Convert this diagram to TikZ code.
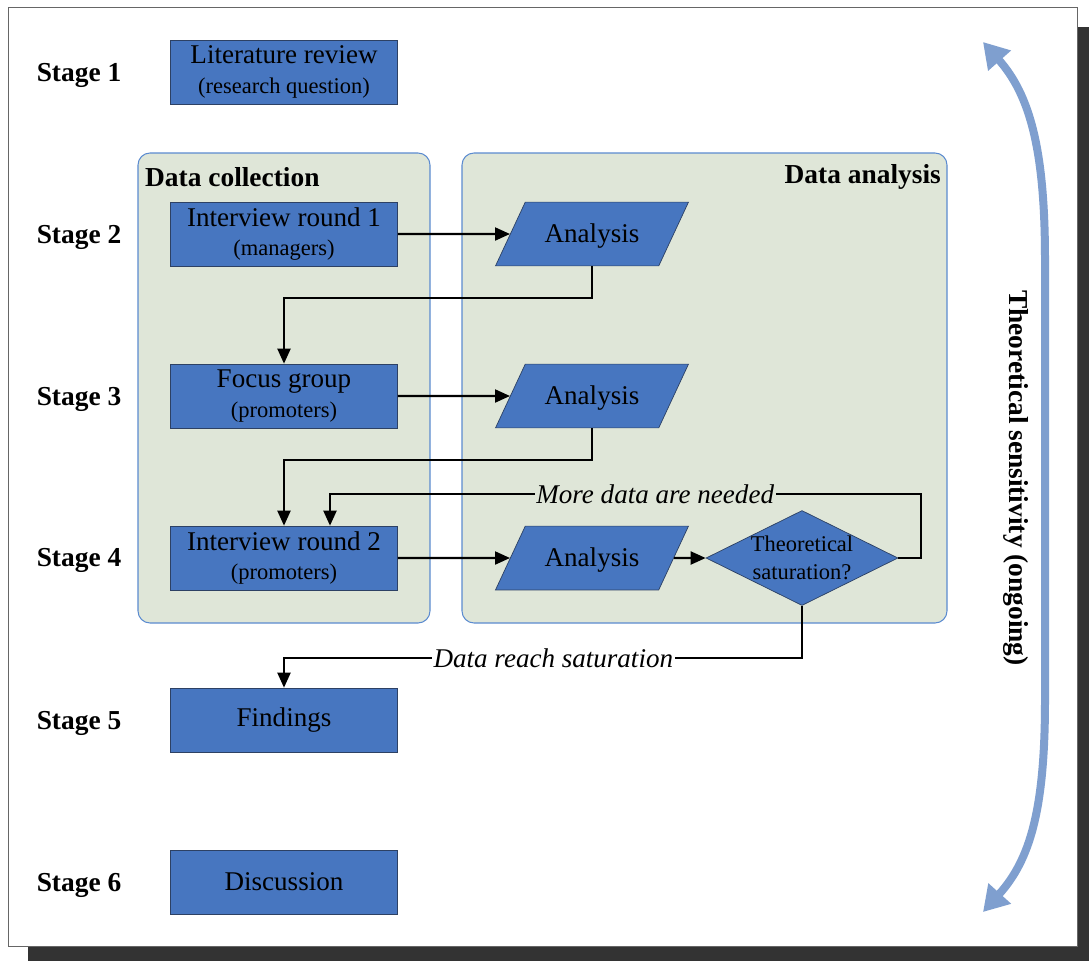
\documentclass[tikz,border=0pt]{standalone}
\usepackage{fontspec}
\setmainfont{Liberation Serif}
\usetikzlibrary{shapes.geometric,arrows.meta}
\definecolor{boxblue}{RGB}{71,118,192}
\definecolor{boxline}{RGB}{45,65,100}
\definecolor{panelfill}{RGB}{223,230,216}
\definecolor{panelline}{RGB}{91,139,208}
\definecolor{sensblue}{RGB}{127,159,207}
\newcommand{\subtxt}[1]{{\fontsize{12.8}{15}\selectfont #1}}
\tikzset{
  stage/.style={font=\fontsize{15.6}{17}\selectfont\bfseries},
  box/.style={draw=boxline,fill=boxblue,minimum width=4.54cm,minimum height=1.28cm,
    inner sep=0pt,align=center,font=\fontsize{15.4}{17}\selectfont},
  ana/.style={trapezium,trapezium left angle=65,trapezium right angle=115,
    trapezium stretches body,draw=boxline,fill=boxblue,minimum width=3.86cm,
    text height=11.5pt,text depth=2pt,inner xsep=0pt,inner ysep=11.4pt,
    font=\fontsize{15.4}{17}\selectfont},
  decision/.style={diamond,draw=boxline,fill=boxblue,minimum width=3.84cm,
    minimum height=1.9cm,inner sep=0pt},
  panel/.style={draw=panelline,fill=panelfill,rounded corners=0.24cm,line width=0.6pt},
  conn/.style={line width=1.2pt,-{Triangle[length=0.3cm,width=0.26cm]}},
  lbl/.style={font=\fontsize{15.4}{17}\selectfont\itshape,inner sep=1pt}
}
\begin{document}
\begin{tikzpicture}[x=0.02cm,y=-0.02cm]
\useasboundingbox (0,0) rectangle (1089,961);
\fill[black!80] (28,27) rectangle (1089,961);
\draw[black!60,fill=white] (8,7) rectangle (1077,946);
\draw[panel] (138,153) rectangle (430,623);
\draw[panel] (462,153) rectangle (947,623);
\node[stage,anchor=west] (coll) at (139,177) {Data collection};
\node[stage,anchor=east] (anal) at (947,177) {Data analysis};
\foreach \i/\y in {1/75,2/237,3/399,4/560,5/723,6/885}
  \node[stage] (s\i) at (79,\y) {Stage \i};
\node[box] (lit) at (284,72) {Literature review\\\subtxt{(research question)}};
\node[box] (int1) at (284,234) {Interview round 1\\\subtxt{(managers)}};
\node[box] (focus) at (284,396) {Focus group\\\subtxt{(promoters)}};
\node[box] (int2) at (284,558) {Interview round 2\\\subtxt{(promoters)}};
\node[box] (find) at (284,720) {Findings};
\node[box] (disc) at (284,882) {Discussion};
\node[ana] (ana1) at (592,234) {Analysis};
\node[ana] (ana2) at (592,396) {Analysis};
\node[ana] (ana3) at (592,558) {Analysis};
\node[decision,label={[align=center,font=\fontsize{12.8}{15.9}\selectfont]center:Theoretical\\saturation?}] (sat) at (802,558) {};
\coordinate (back) at (330,494);
\draw[conn] (int1) -- (ana1);
\draw[conn] (focus) -- (ana2);
\draw[conn] (int2) -- (ana3);
\draw[conn] (ana3) -- (sat);
\draw[conn] (ana1.south) -- ++(0,32) -| (focus.north);
\draw[conn] (ana2.south) -- ++(0,32) -| (int2.north);
\draw[conn] (sat.east) -- ++(23,0) |- node[pos=0.725,lbl,fill=panelfill] {More data are needed} (back) -- (back |- int2.north);
\draw[conn] (sat.south) -- ++(0,52) -| node[pos=0.24,lbl,fill=white] {Data reach saturation} (find.north);
% ongoing sensitivity
\draw[sensblue,line width=0.16cm,{Triangle[length=0.5cm,width=0.58cm]}-{Triangle[length=0.5cm,width=0.58cm]}]
  (983,42) .. controls (1030,95) and (1045,150) .. (1045,260) -- (1045,700)
  .. controls (1045,810) and (1030,860) .. (983,912);
\node[stage,rotate=-90] (sens) at (1016,478) {Theoretical sensitivity (ongoing)};
\end{tikzpicture}
\end{document}
